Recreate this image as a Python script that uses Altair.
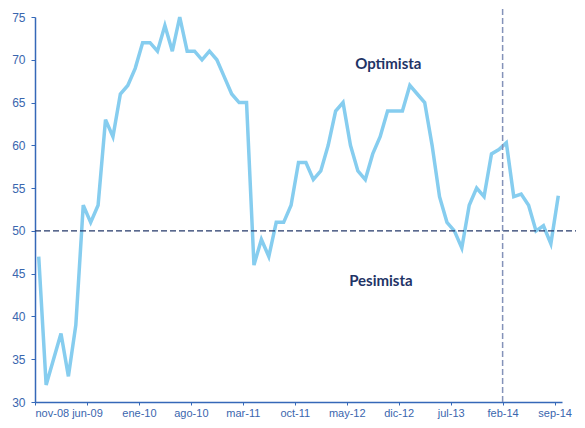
import altair as alt
import pandas as pd

# Monthly index values, nov-08 .. sep-14
values = [47, 32, 35, 38, 33, 39, 53, 51, 53, 63, 61, 66, 67, 69, 72, 72, 71, 74, 71, 75,
          71, 71, 70, 71, 70, 68, 66, 65, 65, 46, 49, 47, 51, 51, 53, 58, 58, 56, 57, 60,
          64, 65, 60, 57, 56, 59, 61, 64, 64, 64, 67, 66, 65, 60, 54, 51, 50, 48, 53, 55,
          54, 59, 59.5, 60.3, 54, 54.3, 53, 50, 50.6, 48.5, 54.1]
tick_labels = ["nov-08", "jun-09", "ene-10", "ago-10", "mar-11", "oct-11",
               "may-12", "dic-12", "jul-13", "feb-14", "sep-14"]
tick_pos = [0, 7, 14, 21, 28, 35, 42, 49, 56, 63, 70]
threshold = 50
marker_month = 63
annotations = ["Optimista", "Pesimista"]
annot_x = [47.6, 46.6]
annot_y = [68.9, 43.6]

df = pd.DataFrame({"m": [i + 0.5 for i in range(len(values))], "v": values})

label_expr = "[" + ",".join(f"'{t}'" for t in tick_labels) + "][datum.value/7]"

axis_color = "#3568B8"
label_color = "#3A66AE"

x = alt.X("m:Q", scale=alt.Scale(domain=[0, 71], nice=False, zero=False),
          axis=alt.Axis(values=tick_pos, labelExpr=label_expr, grid=False,
                        domainColor=axis_color, tickColor=axis_color, tickSize=3,
                        labelColor=label_color, labelFont="Liberation Sans",
                        labelFontSize=11, labelPadding=2, title=None, domainWidth=1.5))
y = alt.Y("v:Q", scale=alt.Scale(domain=[30, 75], nice=False, zero=False),
          axis=alt.Axis(values=list(range(30, 80, 5)), grid=False,
                        domainColor=axis_color, tickColor=axis_color, tickSize=4,
                        labelColor=label_color, labelFont="Liberation Sans",
                        labelFontSize=12, labelPadding=6, title=None, domainWidth=1.5))

line = alt.Chart(df).mark_line(color="#86CDEF", strokeWidth=3.5).encode(x=x, y=y)

hrule = alt.Chart(pd.DataFrame({"a": [0], "b": [73.3], "v": [threshold]})).mark_rule(
    color="#25386A", strokeDash=[6, 3], strokeWidth=1.2
).encode(x="a:Q", x2="b:Q", y="v:Q")

vrule = alt.Chart(pd.DataFrame({"m": [marker_month]})).mark_rule(
    color="#8492B9", strokeDash=[6, 3], strokeWidth=1.5
).encode(x="m:Q", y=alt.value(-17), y2=alt.value(385))

text = alt.Chart(pd.DataFrame({"t": annotations, "x": annot_x, "y": annot_y})).mark_text(
    font="Lato", fontWeight="bold", fontSize=15, color="#1F3466", align="center",
    baseline="alphabetic"
).encode(x="x:Q", y="y:Q", text="t:N")

chart = alt.layer(line, hrule, vrule, text).properties(
    width=527, height=385,
    autosize=alt.AutoSizeParams(type="none"),
    padding={"left": 27, "top": 9, "right": 14, "bottom": 18},
).configure_view(stroke=None)

chart.save("out.html", embed_options={"renderer": "svg", "actions": False})
